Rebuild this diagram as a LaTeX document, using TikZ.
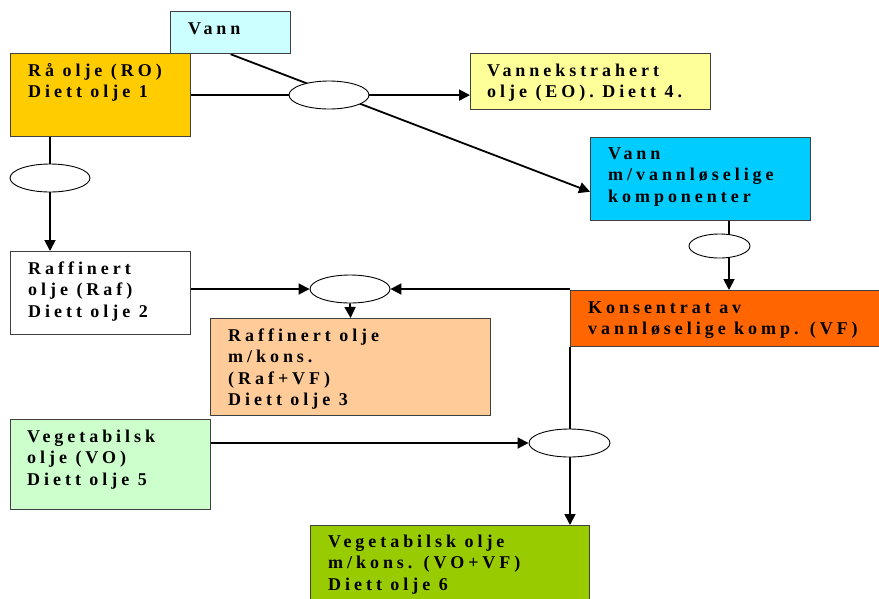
\documentclass[tikz,border=0pt]{standalone}
\usepackage{fontspec}
\setmainfont{Liberation Serif}
\newfontfamily\spacedfont[LetterSpace=22]{Liberation Serif}
\usetikzlibrary{arrows.meta,calc,backgrounds,shapes.geometric}
\definecolor{cVann}{HTML}{CCFFFF}
\definecolor{cRO}{HTML}{FFCC00}
\definecolor{cEO}{HTML}{FFFF99}
\definecolor{cVmv}{HTML}{00CCFF}
\definecolor{cRafVF}{HTML}{FFCC99}
\definecolor{cKons}{HTML}{FF6600}
\definecolor{cVO}{HTML}{CCFFCC}
\definecolor{cGrn}{HTML}{99CC00}
\definecolor{cBorder}{HTML}{404040}
\tikzset{
  box/.style={rectangle, draw=cBorder, line width=1.2pt, inner sep=0pt, anchor=north west},
  txt/.style={anchor=base west, align=left, inner sep=0pt,
    font=\spacedfont\bfseries\fontsize{18}{21.6}\selectfont},
  ell/.style={ellipse, draw=black, fill=white, line width=0.9pt, inner sep=0pt,
    minimum width=80pt, minimum height=28pt},
  conn/.style={line width=1.8pt, draw=black},
  arr/.style={conn, -{Triangle[length=11pt,width=11pt]}},
}
\begin{document}
\begin{tikzpicture}[x=1pt,y=-1pt]
\useasboundingbox (0,0) rectangle (879,598);
\clip (0,0) rectangle (879,598);
% boxes
\node[box, fill=cVann, minimum width=120pt, minimum height=42pt] (vann) at (170,11) {};
\node[box, fill=cRO, minimum width=180pt, minimum height=83pt] (ro) at (10,53) {};
\node[box, fill=cEO, minimum width=240pt, minimum height=56pt] (vek) at (470,53) {};
\node[box, fill=cVmv, minimum width=220pt, minimum height=83pt] (vmv) at (590,137) {};
\node[box, fill=white, minimum width=180pt, minimum height=83pt] (raf) at (10,251) {};
\node[box, fill=cRafVF, minimum width=280pt, minimum height=97pt] (rafvf) at (210,318) {};
\node[box, fill=cKons, minimum width=315pt, minimum height=56pt] (kons) at (570,290) {};
\node[box, fill=cVO, minimum width=200pt, minimum height=90pt] (vo) at (10,419) {};
\node[box, fill=cGrn, minimum width=279pt, minimum height=85pt] (grn) at (310,525) {};
% texts (anchored at the baseline of their last line)
\node[txt] (tvann) at (188,34) {Vann};
\node[txt] (tro) at (28,97.6) {Rå olje (RO)\\Diett olje 1};
\node[txt] (tvek) at (487,97.6) {Vannekstrahert\\olje (EO). Diett 4.};
\node[txt] (tvmv) at (608,202.2) {Vann\\m/vannløselige\\komponenter};
\node[txt] (traf) at (28,317.2) {Raffinert\\olje (Raf)\\Diett olje 2};
\node[txt] (trafvf) at (228,405.8) {Raffinert olje\\m/kons.\\(Raf+VF)\\Diett olje 3};
\node[txt] (tkons) at (588,334.6) {Konsentrat av\\vannløselige komp. (VF)};
\node[txt] (tvo) at (27,485.2) {Vegetabilsk\\olje (VO)\\Diett olje 5};
\node[txt] (tgrn) at (328,590.2) {Vegetabilsk olje\\m/kons. (VO+VF)\\Diett olje 6};
% ellipses
\node[ell] (e1) at (329,95) {};
\node[ell] (e2) at (50,178) {};
\node[ell] (e3) at (350,289) {};
\node[ell, minimum width=61pt, minimum height=24pt] (e4) at (719.5,246) {};
\node[ell, minimum width=81pt] (e5) at (569.5,443) {};
% connectors
\begin{scope}[on background layer]
\draw[arr] (vann.south) -- ($(vmv.north west)!0.65!(vmv.south west)$);
\draw[arr] (ro.east) -- (ro.east -| vek.west);
\draw[arr] (ro.south -| e2) -- (raf.north -| e2);
\draw[arr] (raf.east |- e3) -- (e3.west);
\draw[arr] (e3.south) -- (rafvf.north);
\draw[arr] (e3.east -| kons.north west) -- (e3.east);
\draw[arr] ($(vmv.south west)+(139,0)$) -- ($(kons.north west)+(159,0)$);
\draw[arr] (kons.south west) -- (kons.south west |- grn.north);
\draw[arr] (vo.east |- e5) -- (e5.west);
\end{scope}
\end{tikzpicture}
\end{document}
